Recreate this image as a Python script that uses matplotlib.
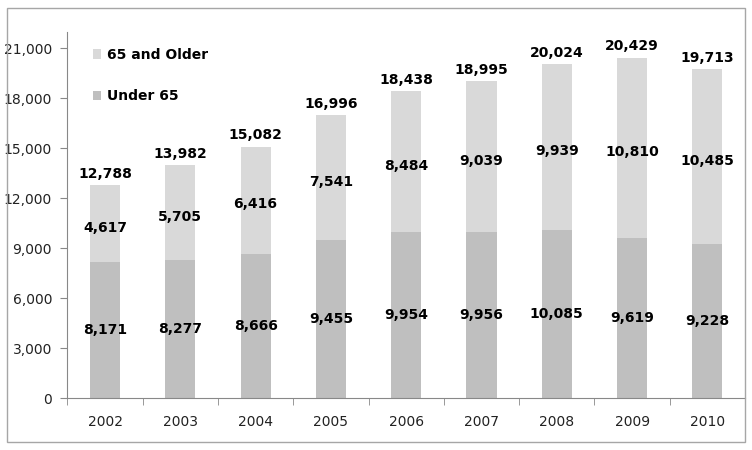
import matplotlib
matplotlib.use("Agg")
import matplotlib.pyplot as plt
from matplotlib.patches import Rectangle
import numpy as np

years = ["2002", "2003", "2004", "2005", "2006", "2007", "2008", "2009", "2010"]
under65 = [8171, 8277, 8666, 9455, 9954, 9956, 10085, 9619, 9228]
older65 = [4617, 5705, 6416, 7541, 8484, 9039, 9939, 10810, 10485]
totals = [12788, 13982, 15082, 16996, 18438, 18995, 20024, 20429, 19713]
yticks = [0, 3000, 6000, 9000, 12000, 15000, 18000, 21000]

c_under = "#BFBFBF"
c_older = "#D9D9D9"

fig = plt.figure(figsize=(7.52, 4.5), dpi=100)
fig.patches.append(Rectangle((7/752, 1-442/450), (745-7)/752, (442-8)/450,
                             transform=fig.transFigure, fill=False,
                             edgecolor="#A6A6A6", linewidth=1.0))
ax = fig.add_axes([67.4/752, 1-398/450, (745-67.4)/752, (398-32)/450])

x = np.arange(len(years))
w = 0.4
b1 = ax.bar(x, under65, width=w, color=c_under, label="Under 65")
b2 = ax.bar(x, older65, width=w, bottom=under65, color=c_older, label="65 and Older")

for i in range(len(years)):
    ax.text(x[i], under65[i] / 2, f"{under65[i]:,}", ha="center", va="center",
            fontsize=10, fontweight="bold", color="black")
    ax.text(x[i], under65[i] + older65[i] / 2 - 250, f"{older65[i]:,}", ha="center",
            va="center", fontsize=10, fontweight="bold", color="black")
    ax.text(x[i], totals[i] + 250, f"{totals[i]:,}", ha="center", va="bottom",
            fontsize=10, fontweight="bold", color="black")

ax.set_xlim(-0.5, len(years) - 0.5)
ax.set_ylim(0, 21960)
ax.set_yticks(yticks)
ax.set_yticklabels([f"{v:,}" for v in yticks], fontsize=10, color="#222222")
ax.set_xticks(x)
ax.set_xticklabels(years, fontsize=10, color="#222222")
ax.set_xticks(np.arange(-0.5, len(years)), minor=True)
ax.tick_params(axis="x", which="major", length=0, pad=12)
ax.tick_params(axis="x", which="minor", length=5, color="#888888", direction="out")
ax.tick_params(axis="y", length=5, color="#888888", direction="out", pad=6)

for s in ["top", "right"]:
    ax.spines[s].set_visible(False)
for s in ["left", "bottom"]:
    ax.spines[s].set_color("#888888")

leg = ax.legend(handles=[b2, b1], loc="upper left", bbox_to_anchor=(0.02, 0.99),
                frameon=False, handlelength=0.55, handleheight=0.7,
                handletextpad=0.4, labelspacing=1.95, prop={"weight": "bold", "size": 10})

fig.savefig("out.png", dpi=100)
